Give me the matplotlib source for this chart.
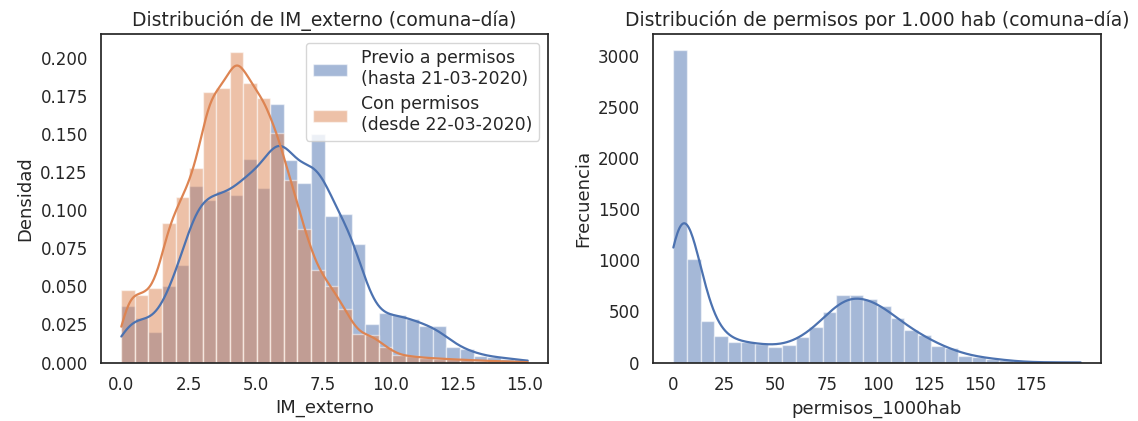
import numpy as np
import matplotlib
matplotlib.use("Agg")
import matplotlib.pyplot as plt
import seaborn as sns
from matplotlib.patches import Patch

# ---------------- data ----------------
# Left panel: IM_externo, 30 common bins between these limits (density per bin)
im_range = (0.0, 15.12)
im_previo = [0.037, 0.029, 0.020, 0.050, 0.064, 0.116, 0.107, 0.113, 0.110, 0.134,
             0.115, 0.170, 0.133, 0.118, 0.150, 0.096, 0.0976, 0.078, 0.0252, 0.0325,
             0.0314, 0.0285, 0.024, 0.0237, 0.0105, 0.0088, 0.0046, 0.0037, 0.0026, 0.0022]
im_con = [0.0475, 0.0442, 0.049, 0.092, 0.1085, 0.128, 0.178, 0.1805, 0.2043, 0.184,
          0.1737, 0.151, 0.120, 0.088, 0.061, 0.050, 0.0353, 0.0186, 0.0182, 0.0105,
          0.0048, 0.004, 0.003, 0.0026, 0.002, 0.0018, 0.0013, 0.0009, 0.0007, 0.0004]
im_labels = ["Previo a permisos\n(hasta 21-03-2020)", "Con permisos\n(desde 22-03-2020)"]

# Right panel: permisos_1000hab counts, 30 bins
perm_range = (0.0, 199.2)
perm_counts = [3065, 1011, 409, 255, 205, 199, 180, 156, 175, 245,
               343, 498, 666, 662, 623, 555, 432, 320, 266, 165,
               138, 67, 58, 35, 25, 6, 3, 2, 1, 1]
perm_xticks = [0, 25, 50, 75, 100, 125, 150, 175]

# ---------------- style ----------------
sns.set_theme(style="white")
plt.rcParams["font.family"] = ["DejaVu Sans"]
blue, orange = sns.color_palette("deep")[0], sns.color_palette("deep")[1]


def kde_from_bins(edges, heights, bw, scale):
    centers = (edges[:-1] + edges[1:]) / 2
    w = np.asarray(heights, float)
    w = w / w.sum()
    grid = np.linspace(edges[0], edges[-1], 400)
    z = (grid[:, None] - centers[None, :]) / bw
    dens = (w[None, :] * np.exp(-0.5 * z ** 2)).sum(axis=1) / (bw * np.sqrt(2 * np.pi))
    return grid, dens * scale


fig = plt.figure(figsize=(11.38, 4.21), dpi=100)
ax1 = fig.add_axes([101 / 1138, 58.5 / 421, 447 / 1138, 328.5 / 421])
ax2 = fig.add_axes([653 / 1138, 58.5 / 421, 448 / 1138, 328.5 / 421])

# ---- left ----
edges1 = np.linspace(im_range[0], im_range[1], len(im_previo) + 1)
bw1 = edges1[1] - edges1[0]
for vals, col in [(im_previo, blue), (im_con, orange)]:
    ax1.bar(edges1[:-1], vals, width=bw1, align="edge", color=col, alpha=0.5,
            edgecolor="white", linewidth=1)
for vals, col, bw in [(im_previo, blue, 0.52), (im_con, orange, 0.34)]:
    gx, gy = kde_from_bins(edges1, vals, bw, np.sum(vals) * bw1)
    ax1.plot(gx, gy, color=col, lw=1.6)
ax1.set_title("Distribución de IM_externo (comuna–día)", fontsize=13.5)
ax1.set_xlabel("IM_externo", fontsize=13)
ax1.set_ylabel("Densidad", fontsize=13)
ax1.margins(x=0.05)
ax1.set_ylim(0, 0.216)
handles = [Patch(facecolor=blue, alpha=0.5), Patch(facecolor=orange, alpha=0.5)]
ax1.legend(handles, im_labels, loc="upper right", fontsize=12.4, labelspacing=0.4)

# ---- right ----
edges2 = np.linspace(perm_range[0], perm_range[1], len(perm_counts) + 1)
bw2 = edges2[1] - edges2[0]
ax2.bar(edges2[:-1], perm_counts, width=bw2, align="edge", color=blue, alpha=0.5,
        edgecolor="white", linewidth=1)
gx, gy = kde_from_bins(edges2, perm_counts, 7.7, np.sum(perm_counts) * bw2)
ax2.plot(gx, gy, color=blue, lw=1.6)
ax2.set_xticks(perm_xticks)
ax2.set_xlim(perm_range[0] - 0.05 * (perm_range[1] - perm_range[0]),
             perm_range[1] + 0.05 * (perm_range[1] - perm_range[0]))
ax2.set_ylim(0, 3218)
ax2.set_title("Distribución de permisos por 1.000 hab (comuna–día)", fontsize=13.5)
ax2.set_xlabel("permisos_1000hab", fontsize=13)
ax2.set_ylabel("Frecuencia", fontsize=13)

for ax in (ax1, ax2):
    ax.tick_params(labelsize=12)

fig.savefig("out.png", dpi=100)
